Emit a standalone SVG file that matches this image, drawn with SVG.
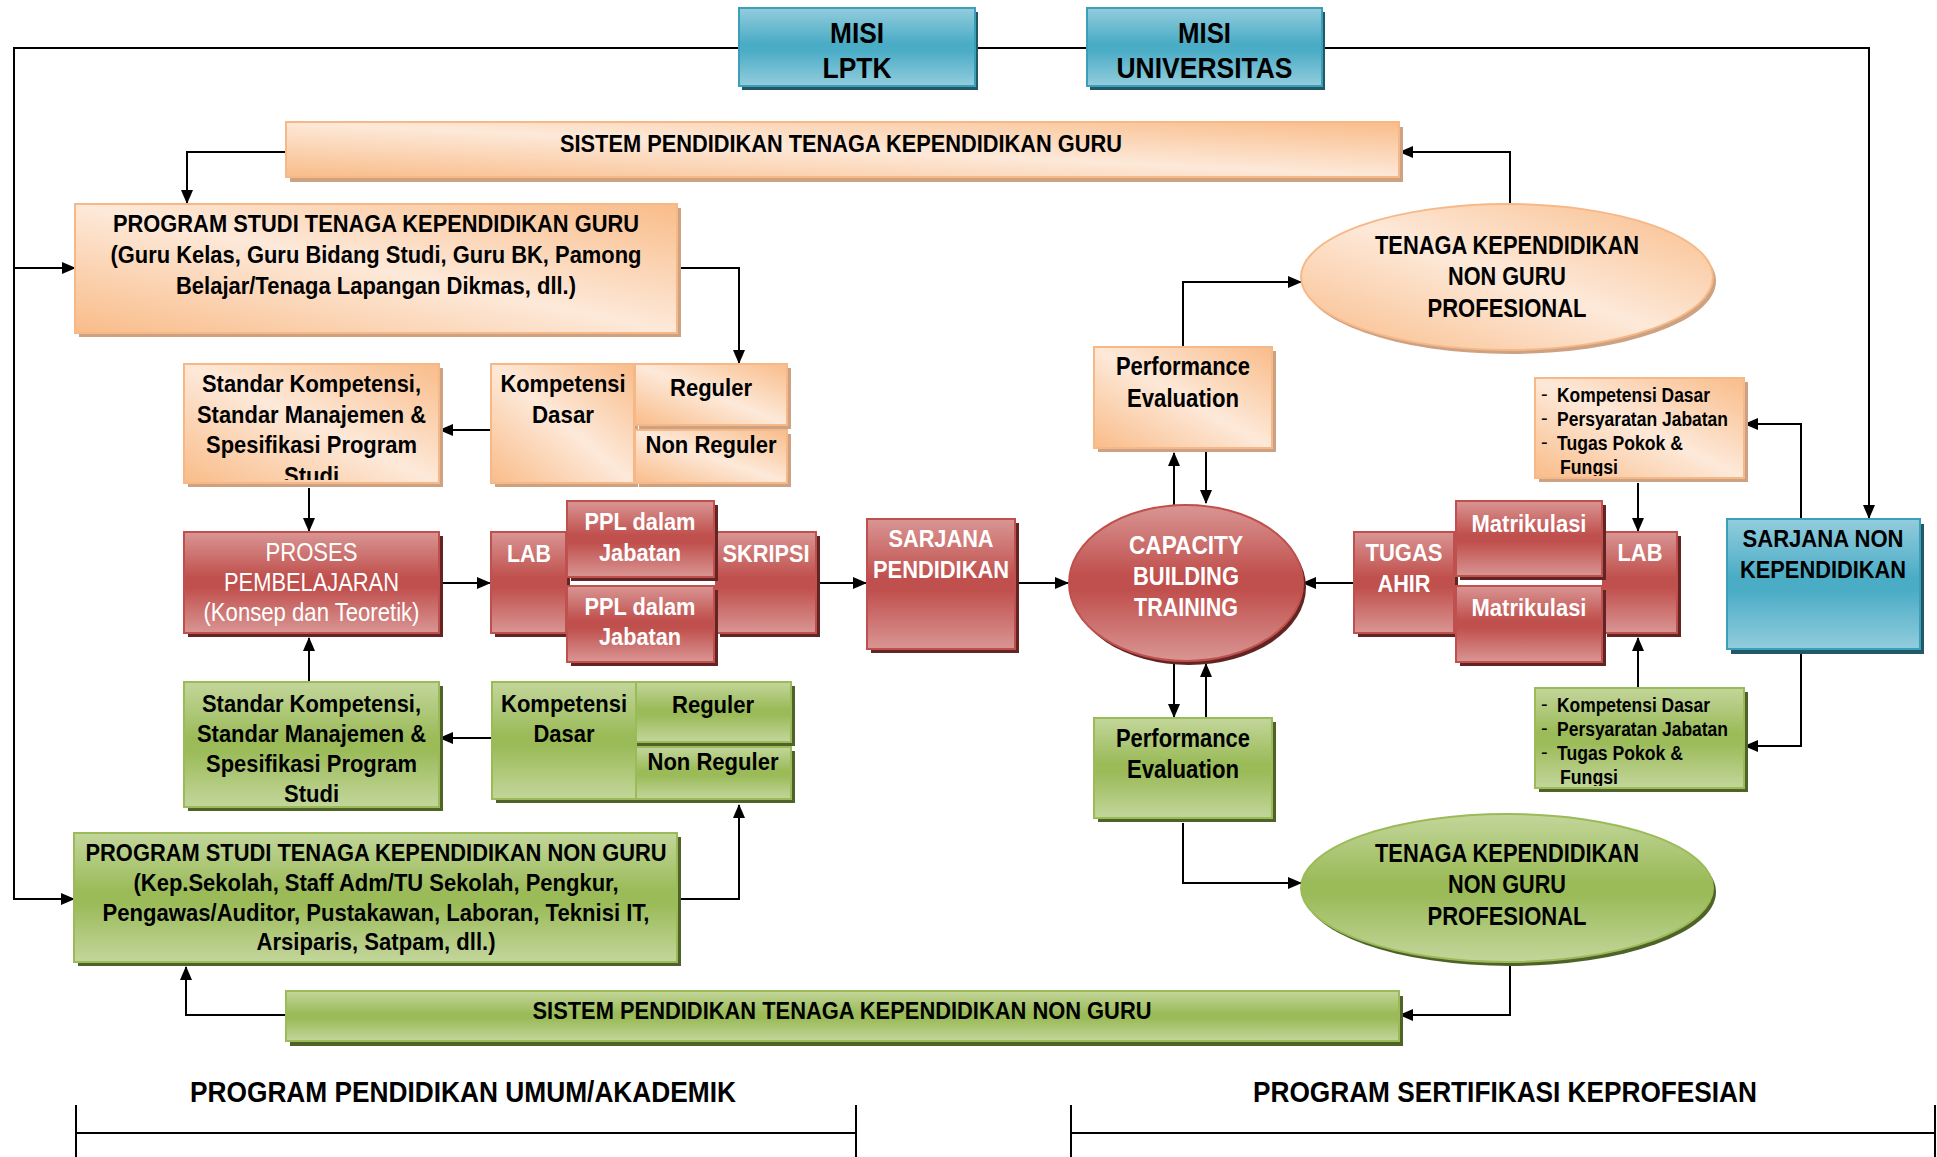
<svg xmlns="http://www.w3.org/2000/svg" width="1937" height="1157" viewBox="0 0 1937 1157">
<style>
.t{font-family:"Liberation Sans Narrow","Liberation Sans",Arial,sans-serif;font-weight:700;text-anchor:middle;fill:#000}
.w{fill:#fff}
.n{font-weight:400}
.s{text-anchor:start}
.f30{font-size:30px}.f29{font-size:29px}.f26{font-size:26px}.f25{font-size:25px}.f24{font-size:24px}.f23{font-size:23px}.f20{font-size:20px}
.bo{fill:url(#gO);stroke:#f7b888;stroke-width:2}
.br{fill:url(#gR);stroke:#c0504d;stroke-width:2}
.bg{fill:url(#gG);stroke:#9bbb59;stroke-width:2}
.bb{fill:url(#gB);stroke:#3c9fba;stroke-width:2}
.so{fill:#cda283}.sr{fill:#632523}.sg{fill:#4f6228}.sb{fill:#215968}
.c{fill:none;stroke:#000;stroke-width:2}
</style>
<defs>
<linearGradient id="gO" x1="0" y1="1" x2="1" y2="0"><stop offset="0" stop-color="#f9bc89"/><stop offset="0.5" stop-color="#fde9d9"/><stop offset="1" stop-color="#f9bc89"/></linearGradient>
<linearGradient id="gR" x1="0" y1="0" x2="0" y2="1"><stop offset="0" stop-color="#d99694"/><stop offset="0.45" stop-color="#c0504d"/><stop offset="0.55" stop-color="#c0504d"/><stop offset="1" stop-color="#d99694"/></linearGradient>
<linearGradient id="gG" x1="0" y1="0" x2="0" y2="1"><stop offset="0" stop-color="#c3d69b"/><stop offset="0.45" stop-color="#9bbb59"/><stop offset="0.55" stop-color="#9bbb59"/><stop offset="1" stop-color="#c3d69b"/></linearGradient>
<linearGradient id="gB" x1="0" y1="0" x2="0" y2="1"><stop offset="0" stop-color="#93cddd"/><stop offset="0.45" stop-color="#4bacc6"/><stop offset="0.55" stop-color="#4bacc6"/><stop offset="1" stop-color="#93cddd"/></linearGradient>
<marker id="ah" markerWidth="14" markerHeight="12" refX="13" refY="6" orient="auto" markerUnits="userSpaceOnUse"><path d="M0,0 L14,6 L0,12 z" fill="#000"/></marker>
<clipPath id="cpStd"><rect x="184" y="364" width="255" height="116"/></clipPath>
<clipPath id="cpKo"><rect x="1535" y="378" width="209" height="98"/></clipPath>
<clipPath id="cpKg"><rect x="1535" y="688" width="209" height="98"/></clipPath>
</defs>

<g id="connectors">
<path class="c" d="M739,48 H14 V899 H74" marker-end="url(#ah)"/>
<path class="c" d="M14,268 H75" marker-end="url(#ah)"/>
<path class="c" d="M975,48 H1087"/>
<path class="c" d="M1322,48 H1869 V518" marker-end="url(#ah)"/>
<path class="c" d="M286,152 H187 V203" marker-end="url(#ah)"/>
<path class="c" d="M677,268 H739 V363" marker-end="url(#ah)"/>
<path class="c" d="M491,430 H440" marker-end="url(#ah)"/>
<path class="c" d="M309,488 V531" marker-end="url(#ah)"/>
<path class="c" d="M309,682 V638" marker-end="url(#ah)"/>
<path class="c" d="M492,738 H440" marker-end="url(#ah)"/>
<path class="c" d="M677,899 H739 V805" marker-end="url(#ah)"/>
<path class="c" d="M286,1015 H186 V967" marker-end="url(#ah)"/>
<path class="c" d="M439,583 H490" marker-end="url(#ah)"/>
<path class="c" d="M816,583 H866" marker-end="url(#ah)"/>
<path class="c" d="M1016,583 H1068" marker-end="url(#ah)"/>
<path class="c" d="M1354,583 H1303" marker-end="url(#ah)"/>
<path class="c" d="M1174,505 V453" marker-end="url(#ah)"/>
<path class="c" d="M1206,452 V503" marker-end="url(#ah)"/>
<path class="c" d="M1174,663 V717" marker-end="url(#ah)"/>
<path class="c" d="M1206,718 V664" marker-end="url(#ah)"/>
<path class="c" d="M1183,347 V282 H1301" marker-end="url(#ah)"/>
<path class="c" d="M1510,204 V152 H1400" marker-end="url(#ah)"/>
<path class="c" d="M1183,823 V883 H1301" marker-end="url(#ah)"/>
<path class="c" d="M1510,962 V1015 H1400" marker-end="url(#ah)"/>
<path class="c" d="M1638,483 V531" marker-end="url(#ah)"/>
<path class="c" d="M1638,688 V638" marker-end="url(#ah)"/>
<path class="c" d="M1801,518 V424 H1745" marker-end="url(#ah)"/>
<path class="c" d="M1801,653 V746 H1745" marker-end="url(#ah)"/>
<path class="c" d="M76,1105 V1157 M76,1133 H856 M856,1105 V1157"/>
<path class="c" d="M1071,1105 V1157 M1071,1133 H1935 M1935,1105 V1157"/>
</g>

<g id="misi-lptk">
<rect class="sb" x="742" y="12" width="236" height="78"/>
<rect class="bb" x="739" y="8" width="236" height="78"/>
<text class="t f30" x="857" y="43" textLength="54" lengthAdjust="spacingAndGlyphs">MISI</text>
<text class="t f30" x="857" y="78" textLength="69" lengthAdjust="spacingAndGlyphs">LPTK</text>
</g>
<g id="misi-universitas">
<rect class="sb" x="1090" y="12" width="235" height="78"/>
<rect class="bb" x="1087" y="8" width="235" height="78"/>
<text class="t f30" x="1204.5" y="43" textLength="53" lengthAdjust="spacingAndGlyphs">MISI</text>
<text class="t f30" x="1204.5" y="78" textLength="176" lengthAdjust="spacingAndGlyphs">UNIVERSITAS</text>
</g>

<g id="sistem-guru">
<rect class="so" x="290" y="127" width="1113" height="55"/>
<rect class="bo" x="286" y="122" width="1113" height="55"/>
<text class="t f23" x="841" y="152" textLength="562" lengthAdjust="spacingAndGlyphs">SISTEM PENDIDIKAN TENAGA KEPENDIDIKAN GURU</text>
</g>

<g id="prodi-guru">
<rect class="so" x="79" y="208" width="602" height="129"/>
<rect class="bo" x="75" y="204" width="602" height="129"/>
<text class="t f24" x="376" y="232" textLength="526" lengthAdjust="spacingAndGlyphs">PROGRAM STUDI TENAGA KEPENDIDIKAN GURU</text>
<text class="t f24" x="376" y="263" textLength="531" lengthAdjust="spacingAndGlyphs">(Guru Kelas, Guru Bidang Studi, Guru BK, Pamong</text>
<text class="t f24" x="376" y="294" textLength="400" lengthAdjust="spacingAndGlyphs">Belajar/Tenaga Lapangan Dikmas, dll.)</text>
</g>

<g id="tenaga-orange">
<ellipse class="so" cx="1510" cy="281" rx="206" ry="73"/>
<ellipse class="bo" cx="1507" cy="277" rx="206" ry="73"/>
<text class="t f26" x="1507" y="254" textLength="264" lengthAdjust="spacingAndGlyphs">TENAGA KEPENDIDIKAN</text>
<text class="t f26" x="1507" y="285" textLength="118" lengthAdjust="spacingAndGlyphs">NON GURU</text>
<text class="t f26" x="1507" y="317" textLength="159" lengthAdjust="spacingAndGlyphs">PROFESIONAL</text>
</g>

<g id="pe-orange">
<rect class="so" x="1098" y="351" width="178" height="101"/>
<rect class="bo" x="1094" y="347" width="178" height="101"/>
<text class="t f25" x="1183" y="375" textLength="134" lengthAdjust="spacingAndGlyphs">Performance</text>
<text class="t f25" x="1183" y="407" textLength="112" lengthAdjust="spacingAndGlyphs">Evaluation</text>
</g>

<g id="standar-orange">
<rect class="so" x="188" y="368" width="255" height="119"/>
<rect class="bo" x="184" y="364" width="255" height="119"/>
<g clip-path="url(#cpStd)">
<text class="t f24" x="311.5" y="392" textLength="219" lengthAdjust="spacingAndGlyphs">Standar Kompetensi,</text>
<text class="t f24" x="311.5" y="423" textLength="229" lengthAdjust="spacingAndGlyphs">Standar Manajemen &amp;</text>
<text class="t f24" x="311.5" y="453" textLength="211" lengthAdjust="spacingAndGlyphs">Spesifikasi Program</text>
<text class="t f24" x="311.5" y="484" textLength="55" lengthAdjust="spacingAndGlyphs">Studi</text>
</g>
</g>

<g id="kompetensi-orange">
<rect class="so" x="495" y="368" width="143" height="119"/>
<rect class="bo" x="491" y="364" width="143" height="119"/>
<rect class="so" x="639" y="368" width="152" height="61"/>
<rect class="bo" x="635" y="364" width="152" height="61"/>
<rect class="so" x="639" y="434" width="152" height="53"/>
<rect class="bo" x="635" y="430" width="152" height="53"/>
<text class="t f24" x="563" y="392" textLength="125" lengthAdjust="spacingAndGlyphs">Kompetensi</text>
<text class="t f24" x="563" y="423" textLength="62" lengthAdjust="spacingAndGlyphs">Dasar</text>
<text class="t f24" x="711" y="396" textLength="82" lengthAdjust="spacingAndGlyphs">Reguler</text>
<text class="t f24" x="711" y="453" textLength="131" lengthAdjust="spacingAndGlyphs">Non Reguler</text>
</g>

<g id="proses">
<rect class="sr" x="188" y="536" width="255" height="101"/>
<rect class="br" x="184" y="532" width="255" height="101"/>
<text class="t w n f25" x="311.5" y="561" textLength="92" lengthAdjust="spacingAndGlyphs">PROSES</text>
<text class="t w n f25" x="311.5" y="591" textLength="175" lengthAdjust="spacingAndGlyphs">PEMBELAJARAN</text>
<text class="t w n f25" x="311.5" y="621" textLength="216" lengthAdjust="spacingAndGlyphs">(Konsep dan Teoretik)</text>
</g>

<g id="lab-left">
<rect class="sr" x="495" y="536" width="75" height="101"/>
<rect class="br" x="491" y="532" width="75" height="101"/>
<text class="t w f24" x="529" y="562" textLength="44" lengthAdjust="spacingAndGlyphs">LAB</text>
</g>
<g id="skripsi">
<rect class="sr" x="720" y="536" width="100" height="101"/>
<rect class="br" x="716" y="532" width="100" height="101"/>
<text class="t w f24" x="766" y="562" textLength="87" lengthAdjust="spacingAndGlyphs">SKRIPSI</text>
</g>
<g id="ppl-atas">
<rect class="sr" x="571" y="505" width="147" height="76"/>
<rect class="br" x="567" y="501" width="147" height="76"/>
<text class="t w f24" x="640" y="530" textLength="111" lengthAdjust="spacingAndGlyphs">PPL dalam</text>
<text class="t w f24" x="640" y="561" textLength="82" lengthAdjust="spacingAndGlyphs">Jabatan</text>
</g>
<g id="ppl-bawah">
<rect class="sr" x="571" y="590" width="147" height="76"/>
<rect class="br" x="567" y="586" width="147" height="76"/>
<text class="t w f24" x="640" y="615" textLength="111" lengthAdjust="spacingAndGlyphs">PPL dalam</text>
<text class="t w f24" x="640" y="645" textLength="82" lengthAdjust="spacingAndGlyphs">Jabatan</text>
</g>

<g id="sarjana-pendidikan">
<rect class="sr" x="871" y="523" width="148" height="130"/>
<rect class="br" x="867" y="519" width="148" height="130"/>
<text class="t w f24" x="941" y="547" textLength="105" lengthAdjust="spacingAndGlyphs">SARJANA</text>
<text class="t w f24" x="941" y="578" textLength="136" lengthAdjust="spacingAndGlyphs">PENDIDIKAN</text>
</g>

<g id="capacity">
<ellipse class="sr" cx="1189" cy="587" rx="117" ry="78"/>
<ellipse class="br" cx="1186" cy="583" rx="117" ry="78"/>
<text class="t w f25" x="1186" y="554" textLength="114" lengthAdjust="spacingAndGlyphs">CAPACITY</text>
<text class="t w f25" x="1186" y="585" textLength="106" lengthAdjust="spacingAndGlyphs">BUILDING</text>
<text class="t w f25" x="1186" y="616" textLength="104" lengthAdjust="spacingAndGlyphs">TRAINING</text>
</g>

<g id="tugas-ahir">
<rect class="sr" x="1358" y="536" width="100" height="101"/>
<rect class="br" x="1354" y="532" width="100" height="101"/>
<text class="t w f24" x="1404" y="561" textLength="77" lengthAdjust="spacingAndGlyphs">TUGAS</text>
<text class="t w f24" x="1404" y="592" textLength="53" lengthAdjust="spacingAndGlyphs">AHIR</text>
</g>
<g id="lab-right">
<rect class="sr" x="1607" y="536" width="74" height="101"/>
<rect class="br" x="1603" y="532" width="74" height="101"/>
<text class="t w f24" x="1640" y="561" textLength="45" lengthAdjust="spacingAndGlyphs">LAB</text>
</g>
<g id="matrikulasi-atas">
<rect class="sr" x="1460" y="505" width="146" height="75"/>
<rect class="br" x="1456" y="501" width="146" height="75"/>
<text class="t w f24" x="1529" y="532" textLength="115" lengthAdjust="spacingAndGlyphs">Matrikulasi</text>
</g>
<g id="matrikulasi-bawah">
<rect class="sr" x="1460" y="590" width="146" height="76"/>
<rect class="br" x="1456" y="586" width="146" height="76"/>
<text class="t w f24" x="1529" y="616" textLength="115" lengthAdjust="spacingAndGlyphs">Matrikulasi</text>
</g>

<g id="kompetensi-right-orange">
<rect class="so" x="1539" y="382" width="209" height="100"/>
<rect class="bo" x="1535" y="378" width="209" height="100"/>
<g clip-path="url(#cpKo)">
<text class="t s n f20" x="1541" y="401">-</text>
<text class="t s n f20" x="1541" y="425">-</text>
<text class="t s n f20" x="1541" y="449">-</text>
<text class="t s f20" x="1557" y="402" textLength="153" lengthAdjust="spacingAndGlyphs">Kompetensi Dasar</text>
<text class="t s f20" x="1557" y="426" textLength="171" lengthAdjust="spacingAndGlyphs">Persyaratan Jabatan</text>
<text class="t s f20" x="1557" y="450" textLength="126" lengthAdjust="spacingAndGlyphs">Tugas Pokok &amp;</text>
<text class="t s f20" x="1560" y="474" textLength="58" lengthAdjust="spacingAndGlyphs">Fungsi</text>
</g>
</g>

<g id="sarjana-non">
<rect class="sb" x="1731" y="524" width="193" height="130"/>
<rect class="bb" x="1727" y="519" width="193" height="130"/>
<text class="t f24" x="1823" y="547" textLength="161" lengthAdjust="spacingAndGlyphs">SARJANA NON</text>
<text class="t f24" x="1823" y="578" textLength="166" lengthAdjust="spacingAndGlyphs">KEPENDIDIKAN</text>
</g>

<g id="pe-green">
<rect class="sg" x="1098" y="722" width="178" height="100"/>
<rect class="bg" x="1094" y="718" width="178" height="100"/>
<text class="t f25" x="1183" y="747" textLength="134" lengthAdjust="spacingAndGlyphs">Performance</text>
<text class="t f25" x="1183" y="778" textLength="112" lengthAdjust="spacingAndGlyphs">Evaluation</text>
</g>

<g id="standar-green">
<rect class="sg" x="188" y="686" width="255" height="125"/>
<rect class="bg" x="184" y="682" width="255" height="125"/>
<text class="t f24" x="311.5" y="712" textLength="219" lengthAdjust="spacingAndGlyphs">Standar Kompetensi,</text>
<text class="t f24" x="311.5" y="742" textLength="229" lengthAdjust="spacingAndGlyphs">Standar Manajemen &amp;</text>
<text class="t f24" x="311.5" y="772" textLength="211" lengthAdjust="spacingAndGlyphs">Spesifikasi Program</text>
<text class="t f24" x="311.5" y="802" textLength="55" lengthAdjust="spacingAndGlyphs">Studi</text>
</g>

<g id="kompetensi-green">
<rect class="sg" x="496" y="686" width="144" height="117"/>
<rect class="bg" x="492" y="682" width="144" height="117"/>
<rect class="sg" x="640" y="686" width="155" height="60"/>
<rect class="bg" x="636" y="682" width="155" height="60"/>
<rect class="sg" x="640" y="751" width="155" height="52"/>
<rect class="bg" x="636" y="747" width="155" height="52"/>
<text class="t f24" x="564" y="712" textLength="126" lengthAdjust="spacingAndGlyphs">Kompetensi</text>
<text class="t f24" x="564" y="742" textLength="61" lengthAdjust="spacingAndGlyphs">Dasar</text>
<text class="t f24" x="713" y="713" textLength="82" lengthAdjust="spacingAndGlyphs">Reguler</text>
<text class="t f24" x="713" y="770" textLength="131" lengthAdjust="spacingAndGlyphs">Non Reguler</text>
</g>

<g id="kompetensi-right-green">
<rect class="sg" x="1539" y="692" width="209" height="100"/>
<rect class="bg" x="1535" y="688" width="209" height="100"/>
<g clip-path="url(#cpKg)">
<text class="t s n f20" x="1541" y="711">-</text>
<text class="t s n f20" x="1541" y="735">-</text>
<text class="t s n f20" x="1541" y="759">-</text>
<text class="t s f20" x="1557" y="712" textLength="153" lengthAdjust="spacingAndGlyphs">Kompetensi Dasar</text>
<text class="t s f20" x="1557" y="736" textLength="171" lengthAdjust="spacingAndGlyphs">Persyaratan Jabatan</text>
<text class="t s f20" x="1557" y="760" textLength="126" lengthAdjust="spacingAndGlyphs">Tugas Pokok &amp;</text>
<text class="t s f20" x="1560" y="784" textLength="58" lengthAdjust="spacingAndGlyphs">Fungsi</text>
</g>
</g>

<g id="tenaga-green">
<ellipse class="sg" cx="1510" cy="892" rx="206" ry="74"/>
<ellipse class="bg" cx="1507" cy="888" rx="206" ry="74"/>
<text class="t f26" x="1507" y="862" textLength="264" lengthAdjust="spacingAndGlyphs">TENAGA KEPENDIDIKAN</text>
<text class="t f26" x="1507" y="893" textLength="118" lengthAdjust="spacingAndGlyphs">NON GURU</text>
<text class="t f26" x="1507" y="925" textLength="159" lengthAdjust="spacingAndGlyphs">PROFESIONAL</text>
</g>

<g id="prodi-nonguru">
<rect class="sg" x="78" y="837" width="603" height="129"/>
<rect class="bg" x="74" y="833" width="603" height="129"/>
<text class="t f24" x="376" y="861" textLength="581" lengthAdjust="spacingAndGlyphs">PROGRAM STUDI TENAGA KEPENDIDIKAN NON GURU</text>
<text class="t f24" x="376" y="891" textLength="485" lengthAdjust="spacingAndGlyphs">(Kep.Sekolah, Staff Adm/TU Sekolah, Pengkur,</text>
<text class="t f24" x="376" y="921" textLength="547" lengthAdjust="spacingAndGlyphs">Pengawas/Auditor, Pustakawan, Laboran, Teknisi IT,</text>
<text class="t f24" x="376" y="950" textLength="239" lengthAdjust="spacingAndGlyphs">Arsiparis, Satpam, dll.)</text>
</g>

<g id="sistem-nonguru">
<rect class="sg" x="290" y="996" width="1113" height="50"/>
<rect class="bg" x="286" y="991" width="1113" height="50"/>
<text class="t f24" x="842" y="1019" textLength="619" lengthAdjust="spacingAndGlyphs">SISTEM PENDIDIKAN TENAGA KEPENDIDIKAN NON GURU</text>
</g>

<g id="label-akademik">
<text class="t f29" x="463" y="1102" textLength="546" lengthAdjust="spacingAndGlyphs">PROGRAM PENDIDIKAN UMUM/AKADEMIK</text>
</g>
<g id="label-sertifikasi">
<text class="t f29" x="1505" y="1102" textLength="504" lengthAdjust="spacingAndGlyphs">PROGRAM SERTIFIKASI KEPROFESIAN</text>
</g>
</svg>
